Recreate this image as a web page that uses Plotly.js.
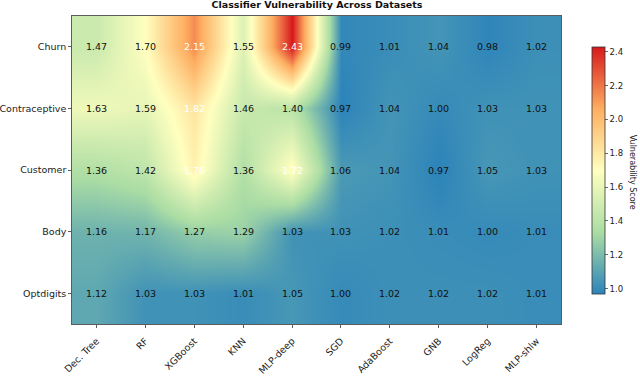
<!DOCTYPE html>
<html><head><meta charset="utf-8">
<script src="https://cdn.plot.ly/plotly-3.0.1.min.js"></script>
<style>html,body{margin:0;padding:0;background:#fff}</style></head>
<body><div id="chart" style="width:640px;height:387px"></div>
<script>
const classifiers = ["Dec. Tree","RF","XGBoost","KNN","MLP-deep","SGD","AdaBoost","GNB","LogReg","MLP-shlw"];
const datasets = ["Churn","Contraceptive","Customer","Body","Optdigits"];
const churn = [1.47,1.70,2.15,1.55,2.43,0.99,1.01,1.04,0.98,1.02];
const contraceptive = [1.63,1.59,1.82,1.46,1.40,0.97,1.04,1.00,1.03,1.03];
const customer = [1.36,1.42,1.76,1.36,1.72,1.06,1.04,0.97,1.05,1.03];
const body = [1.16,1.17,1.27,1.29,1.03,1.03,1.02,1.01,1.00,1.01];
const optdigits = [1.12,1.03,1.03,1.01,1.05,1.00,1.02,1.02,1.02,1.01];
const rows = [churn,contraceptive,customer,body,optdigits];
const colorscale = [[0,"#2b83ba"],[0.25,"#abdda4"],[0.5,"#ffffbf"],[0.75,"#fdae61"],[1,"#d7191c"]];
const whiteAbove = 1.7;
const W=640,H=387,L=71.5,R=561.5,T=16,B=324;
const annotations=[];
rows.forEach((r,j)=>r.forEach((v,i)=>annotations.push({x:i,y:j,xref:"x",yref:"y",text:v.toFixed(2),showarrow:false,
  font:{size:9.5,color:v>whiteAbove?"#ffffff":"#111111"}})));
annotations.push({xref:"paper",yref:"paper",x:(634-L)/(R-L),y:(B-172)/(B-T),xanchor:"center",yanchor:"middle",text:"Vulnerability Score",textangle:90,showarrow:false,font:{size:8,color:"#222"}});
Plotly.newPlot("chart",[{type:"heatmap",z:rows,x:classifiers.map((c,i)=>i),y:datasets.map((d,i)=>i),zsmooth:"best",
  colorscale:colorscale,zmin:0.97,zmax:2.43,opacity:1,
  colorbar:{x:(592.3-L)/(R-L),xanchor:"left",xref:"paper",thickness:12.7,thicknessmode:"pixels",
    len:247/(B-T),lenmode:"fraction",y:(B-293.7)/(B-T),yanchor:"bottom",yref:"paper",
    tickvals:[1,1.2,1.4,1.6,1.8,2,2.2,2.4],ticktext:["1.0","1.2","1.4","1.6","1.8","2.0","2.2","2.4"],
    ticks:"outside",ticklen:3,tickwidth:0.8,tickfont:{size:8.5,color:"#222"},outlinewidth:0.8,outlinecolor:"#333",xpad:0,ypad:0}}],
 {width:W,height:H,margin:{l:L,r:W-R,t:T,b:H-B},paper_bgcolor:"#fff",plot_bgcolor:"#fff",showlegend:false,
  font:{family:"DejaVu Sans",color:"#222"},
  title:{text:"<b>Classifier Vulnerability Across Datasets</b>",font:{size:9.5,color:"#111"},x:(211+423)/2/W,xanchor:"center",y:1-5/H,yanchor:"middle"},
  xaxis:{range:[-0.5,9.5],tickmode:"array",tickvals:classifiers.map((c,i)=>i),ticktext:classifiers,tickangle:-45,ticks:"outside",ticklen:3,tickwidth:0.8,tickcolor:"#333",tickfont:{size:9.5},ticklabelstandoff:4,showgrid:false,zeroline:false,showline:true,mirror:true,linecolor:"#333",linewidth:0.8},
  yaxis:{range:[4.5,-0.5],tickmode:"array",tickvals:datasets.map((d,i)=>i),ticktext:datasets,ticks:"outside",ticklen:3,tickwidth:0.8,tickcolor:"#333",tickfont:{size:9.5},showgrid:false,zeroline:false,showline:true,mirror:true,linecolor:"#333",linewidth:0.8},
  annotations:annotations},{displayModeBar:false,staticPlot:true});
</script></body></html>
